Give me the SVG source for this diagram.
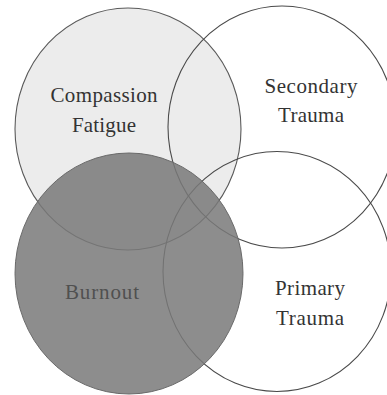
<svg xmlns="http://www.w3.org/2000/svg" width="387" height="395" viewBox="0 0 387 395">
  <style>
    .outline { fill: none; stroke: #4a4a4a; stroke-width: 1.1; }
    .label { font-family: "Liberation Serif", "DejaVu Serif", serif; font-size: 21px; fill: #333333; text-anchor: middle; }
  </style>
  <rect x="0" y="0" width="387" height="395" fill="#ffffff"/>
  <g id="compassion-fatigue">
    <ellipse cx="128" cy="129" rx="113" ry="121" fill="#ececec" stroke="#5a5a5a" stroke-width="1.1"/>
    <text class="label" x="104" y="102" textLength="107" lengthAdjust="spacing">Compassion</text>
    <text class="label" x="104" y="132" textLength="64" lengthAdjust="spacing">Fatigue</text>
  </g>
  <g id="secondary-trauma">
    <ellipse class="outline" cx="282" cy="127" rx="114" ry="121"/>
    <text class="label" x="311" y="93" textLength="93" lengthAdjust="spacing">Secondary</text>
    <text class="label" x="311" y="122" textLength="66" lengthAdjust="spacing">Trauma</text>
  </g>
  <g id="primary-trauma">
    <ellipse class="outline" cx="277" cy="271.5" rx="114" ry="120"/>
    <text class="label" x="310" y="295" textLength="70" lengthAdjust="spacing">Primary</text>
    <text class="label" x="310" y="325" textLength="68" lengthAdjust="spacing">Trauma</text>
  </g>
  <g id="burnout">
    <ellipse cx="129" cy="273.5" rx="114" ry="120.5" fill="#797979" fill-opacity="0.85" stroke="#6a6a6a" stroke-width="1"/>
    <text class="label" x="102" y="299" textLength="74" lengthAdjust="spacing" style="fill:#505050">Burnout</text>
  </g>
</svg>
